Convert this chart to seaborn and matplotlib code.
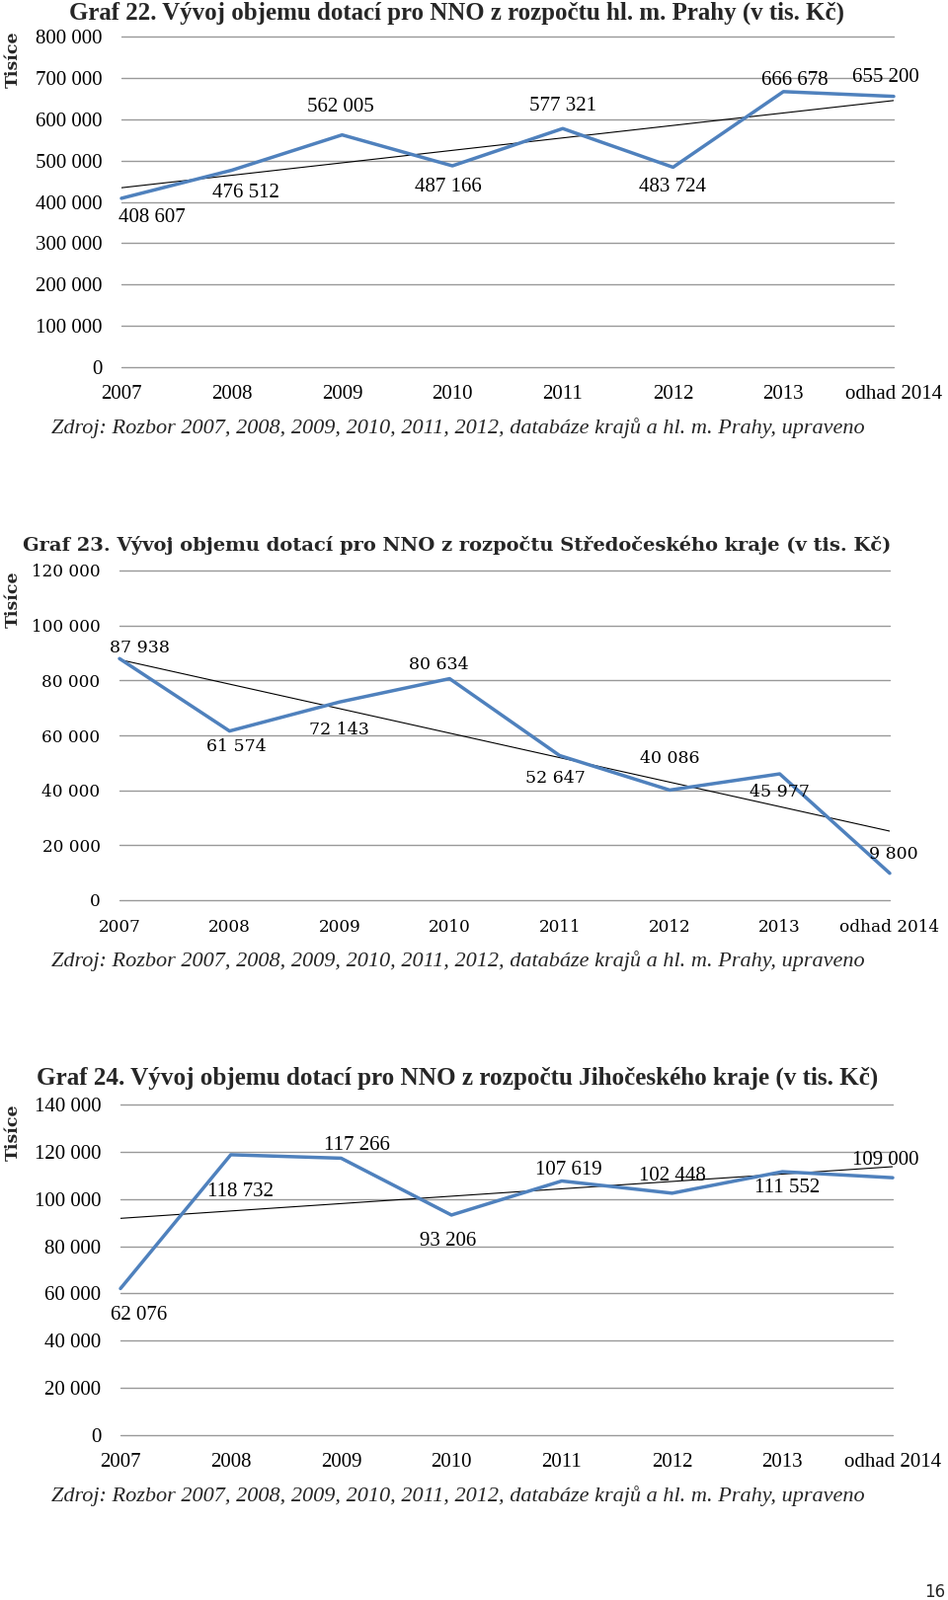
import numpy as np
import pandas as pd
import matplotlib
matplotlib.use("Agg")
import matplotlib.pyplot as plt
from matplotlib.ticker import FuncFormatter, MultipleLocator
import seaborn as sns

sns.set_theme(style="white")
plt.rcParams['font.family'] = ['Liberation Serif', 'DejaVu Serif']

# ---------------- data ----------------
categories = ["2007", "2008", "2009", "2010", "2011", "2012", "2013", "odhad 2014"]

praha_values = [408607, 476512, 562005, 487166, 577321, 483724, 666678, 655200]
stredocesky_values = [87938, 61574, 72143, 80634, 52647, 40086, 45977, 9800]
jihocesky_values = [62076, 118732, 117266, 93206, 107619, 102448, 111552, 109000]

titles = [
    "Graf 22. Vývoj objemu dotací pro NNO z rozpočtu hl. m. Prahy (v tis. Kč)",
    "Graf 23. Vývoj objemu dotací pro NNO z rozpočtu Středočeského kraje (v tis. Kč)",
    "Graf 24. Vývoj objemu dotací pro NNO z rozpočtu Jihočeského kraje (v tis. Kč)",
]
source_text = "Zdroj: Rozbor 2007, 2008, 2009, 2010, 2011, 2012, databáze krajů a hl. m. Prahy, upraveno"
y_label = "Tisíce"
y_max = [800000, 120000, 140000]
y_step = [100000, 20000, 20000]

# ---------------- styling ----------------
W, H = 960, 1621
fig = plt.figure(figsize=(W / 100, H / 100), dpi=100)
fig.patch.set_facecolor("white")

BLUE = "#4F81BD"
GRID = "#999999"

# pixel boxes: left, right, top, bottom
boxes = [(123, 905, 37, 372), (121, 901, 578, 912), (122, 904, 1119, 1454)]
title_y = [13, 552, 1092]
xlab_pad = [13, 14, 13]
src_y = [434, 974, 1516]
tis_y = [60, 607, 1147]
fonts = ["Liberation Serif", "DejaVu Serif", "Liberation Serif"]
tick_size = [15, 12.2, 15]
label_size = [15, 12.5, 15]
title_size = [17.9, 14.0, 18.1]

label_offsets = [
    [(31, -20), (14, -23), (-2, 28), (-4, -22), (0, 23), (-1, -20), (12, 11), (-8, 19)],
    [(20, 11), (7, -16), (0, -28), (-11, 14), (-4, -23), (0, 32), (0, -18), (4, 19)],
    [(19, -27), (10, -38), (16, 13), (-4, -27), (7, 11), (0, 17), (5, -16), (-7, 18)],
]

all_values = [praha_values, stredocesky_values, jihocesky_values]

fmt = lambda v: f"{v:,.0f}".replace(",", " ")

for i, vals in enumerate(all_values):
    l, r, t, b = boxes[i]
    ax = fig.add_axes([l / W, 1 - b / H, (r - l) / W, (b - t) / H])
    df = pd.DataFrame({"x": np.arange(len(categories)), "y": vals})
    sns.lineplot(data=df, x="x", y="y", ax=ax, color=BLUE, linewidth=2.5,
                 zorder=4, clip_on=False)
    sns.regplot(data=df, x="x", y="y", ax=ax, scatter=False, ci=None,
                truncate=True, line_kws=dict(color="black", linewidth=0.8, zorder=3))
    ax.set_xlim(0, len(categories) - 1)
    ax.set_ylim(0, y_max[i])
    ax.yaxis.set_major_locator(MultipleLocator(y_step[i]))
    ax.yaxis.set_major_formatter(FuncFormatter(lambda v, p: fmt(v)))
    ax.set_xticks(np.arange(len(categories)))
    ax.set_xticklabels(categories)
    for sp in ax.spines.values():
        sp.set_visible(False)
    ax.yaxis.grid(True, color=GRID, linewidth=1.0)
    ax.xaxis.grid(False)
    for gl in ax.get_ygridlines():
        gl.set_clip_on(False)
    ax.tick_params(axis="both", length=0, labelcolor="black")
    ax.tick_params(axis="y", pad=14)
    ax.tick_params(axis="x", pad=xlab_pad[i])
    for lab in ax.get_xticklabels() + ax.get_yticklabels():
        lab.set_fontfamily(fonts[i])
        lab.set_fontsize(tick_size[i])
    ax.set_xlabel("")
    ax.set_ylabel("")
    ax.set_facecolor("none")

    for k, v in enumerate(vals):
        dx, dy = label_offsets[i][k]
        ax.annotate(fmt(v), xy=(k, v), xytext=(dx, dy), textcoords="offset pixels",
                    ha="center", va="center", fontsize=label_size[i],
                    fontfamily=fonts[i], color="black", zorder=6, annotation_clip=False)

    fig.text(463 / W, 1 - title_y[i] / H, titles[i], ha="center", va="center",
             fontsize=title_size[i], fontweight="bold", fontfamily=fonts[i])
    fig.text(52 / W, 1 - src_y[i] / H, source_text, ha="left", va="center",
             fontsize=16, style="italic", fontfamily="Liberation Serif")
    fig.text(13 / W, 1 - tis_y[i] / H, y_label, ha="center", va="center",
             rotation=90, fontsize=12.5, fontweight="bold", fontfamily="DejaVu Serif")

fig.text(957 / W, 1 - 1613 / H, "16", ha="right", va="center", fontsize=12,
         fontfamily="DejaVu Sans")

fig.savefig("out.png", dpi=100, facecolor="white")
